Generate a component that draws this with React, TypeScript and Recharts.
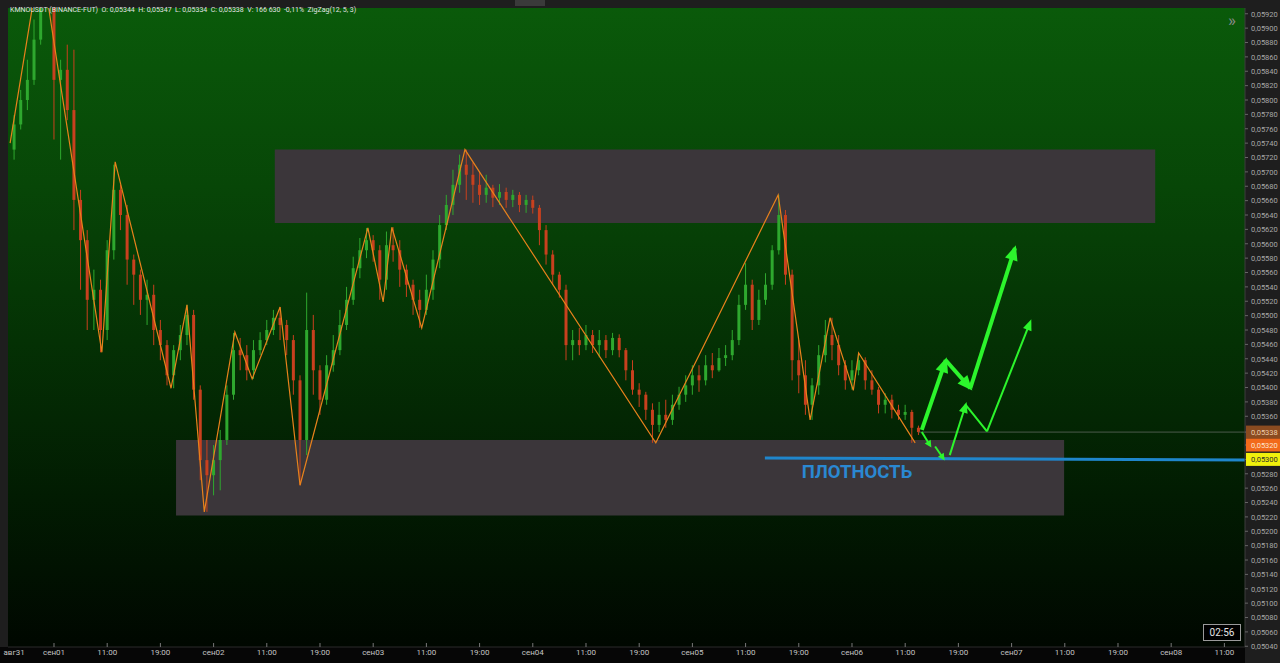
import React from 'react';
import { ComposedChart, Bar, Line, XAxis, YAxis, ReferenceArea, ReferenceDot } from 'recharts';

// hourly candles, first one at сен01 00:00 - 6h
const firstHour = -6;
const firstOpen = 0.05731;
const closes = [
  0.05766, 0.058, 0.05828, 0.05884, 0.0594, 0.05953, 0.05828, 0.05842, 0.05786, 0.05661,
  0.05605, 0.05522, 0.05536, 0.0548, 0.05591, 0.05675, 0.0564, 0.05578, 0.05557, 0.05522,
  0.05529, 0.0548, 0.05459, 0.05417, 0.05452, 0.05473, 0.05501, 0.05397, 0.05299, 0.05278,
  0.05299, 0.05327, 0.0539, 0.05452, 0.05445, 0.05424, 0.05452, 0.05466, 0.0548, 0.05497,
  0.05487, 0.05466, 0.0541, 0.05327, 0.0548, 0.05424, 0.05383, 0.05431, 0.05452, 0.05487,
  0.05522, 0.05566, 0.05591, 0.05605, 0.05591, 0.0555, 0.05598, 0.05591, 0.05564, 0.05543,
  0.05522, 0.05508, 0.05536, 0.05578, 0.05626, 0.05654, 0.05682, 0.0571, 0.05696, 0.05682,
  0.05668, 0.05678, 0.05664, 0.05672, 0.05661, 0.05668, 0.05654, 0.05661, 0.0565, 0.05619,
  0.05585, 0.05557, 0.05536, 0.05459, 0.05466, 0.05459, 0.05473, 0.05459, 0.05466, 0.05452,
  0.05469, 0.05452, 0.05424, 0.05397, 0.0539, 0.05369, 0.05348, 0.05362, 0.05355, 0.05376,
  0.0539, 0.05403, 0.05417, 0.0541, 0.05431, 0.05424, 0.05441, 0.05445, 0.05466, 0.05515,
  0.05543, 0.05494, 0.05522, 0.05543, 0.05591, 0.0564, 0.05557, 0.05438, 0.05417, 0.05376,
  0.05403, 0.05445, 0.05473, 0.05459, 0.05431, 0.0541, 0.05424, 0.05438, 0.0541, 0.05397,
  0.05376, 0.05383, 0.05369, 0.05362, 0.05366, 0.05344, 0.05338,
];
const highs = [
  0.05779, 0.05814, 0.05856, 0.05912, 0.05981, 0.05995, 0.0597, 0.05856, 0.05877, 0.0587,
  0.05675, 0.05619, 0.05564, 0.0555, 0.05605, 0.0571, 0.05682, 0.05654, 0.05585, 0.05564,
  0.0555, 0.05543, 0.05494, 0.05466, 0.05459, 0.05487, 0.05515, 0.05508, 0.05403, 0.05327,
  0.0532, 0.05341, 0.05403, 0.05476, 0.05469, 0.05459, 0.05466, 0.05477, 0.05494, 0.05508,
  0.05512, 0.05494, 0.05473, 0.05417, 0.05532, 0.05501, 0.05431, 0.05445, 0.05473, 0.05508,
  0.0554, 0.05582, 0.05608, 0.05622, 0.05612, 0.05598, 0.05617, 0.05623, 0.05605, 0.05571,
  0.0555, 0.05536, 0.05557, 0.05591, 0.0564, 0.05668, 0.05703, 0.05724, 0.05731, 0.05713,
  0.057, 0.05696, 0.05682, 0.05683, 0.05678, 0.05675, 0.05672, 0.05668, 0.05667, 0.05654,
  0.05626, 0.05591, 0.05561, 0.05543, 0.0548, 0.05483, 0.05487, 0.0548, 0.0548, 0.05473,
  0.05476, 0.05474, 0.05455, 0.05438, 0.05406, 0.05394, 0.05378, 0.0538, 0.05383, 0.0539,
  0.05401, 0.05417, 0.05431, 0.05431, 0.05445, 0.05448, 0.05455, 0.05459, 0.0548, 0.05529,
  0.05573, 0.0555, 0.05536, 0.05559, 0.05598, 0.05668, 0.05647, 0.05564, 0.05466, 0.05438,
  0.05413, 0.05459, 0.05494, 0.05497, 0.05473, 0.05438, 0.05438, 0.05448, 0.05442, 0.05424,
  0.05401, 0.05392, 0.0539, 0.05376, 0.05376, 0.05369, 0.05347,
];
const lows = [
  0.05717, 0.05759, 0.05786, 0.05821, 0.05877, 0.05926, 0.05745, 0.05717, 0.05772, 0.05619,
  0.05536, 0.0548, 0.0548, 0.05449, 0.05466, 0.05578, 0.05619, 0.05543, 0.05515, 0.05501,
  0.05487, 0.05459, 0.05438, 0.05403, 0.05399, 0.05438, 0.05459, 0.05383, 0.05271, 0.05227,
  0.0525, 0.05257, 0.0532, 0.05383, 0.05424, 0.0541, 0.05412, 0.05445, 0.05459, 0.05473,
  0.05466, 0.05445, 0.0539, 0.05264, 0.05306, 0.0539, 0.05362, 0.05376, 0.05422, 0.05445,
  0.0548, 0.05515, 0.05552, 0.0558, 0.05575, 0.05522, 0.05536, 0.05575, 0.0554, 0.05526,
  0.05501, 0.05483, 0.05501, 0.05522, 0.05566, 0.05619, 0.0564, 0.05671, 0.05661, 0.05657,
  0.05654, 0.05657, 0.05651, 0.05654, 0.0565, 0.05651, 0.05644, 0.05643, 0.05642, 0.05598,
  0.05571, 0.05543, 0.05525, 0.05438, 0.05438, 0.05445, 0.05452, 0.05448, 0.05442, 0.05441,
  0.05445, 0.05442, 0.0541, 0.0539, 0.05373, 0.05355, 0.05323, 0.05338, 0.05344, 0.05348,
  0.05369, 0.0538, 0.0539, 0.05394, 0.05403, 0.05413, 0.05422, 0.0543, 0.05438, 0.05459,
  0.05508, 0.0548, 0.05487, 0.05515, 0.05536, 0.05585, 0.05543, 0.0541, 0.05392, 0.05362,
  0.05355, 0.0539, 0.05435, 0.05438, 0.05417, 0.05397, 0.05397, 0.05417, 0.05397, 0.0539,
  0.05364, 0.05364, 0.05357, 0.05355, 0.05355, 0.05323, 0.05334,
];

// ZigZag(12, 5, 3) pivots
const zigzagTimes = [-6.6, -2, 7.2, 9.2, 17.6, 20, 22.6, 27.2, 29.8, 34, 37, 47.2, 49.5, 50.8, 55.3, 61.8, 90.5, 108.9, 113.7, 116.7, 120.2, 121, 129.5];
const zigzagPrices = [0.0574, 0.06, 0.05449, 0.05714, 0.05399, 0.05515, 0.05227, 0.05477, 0.05412, 0.05512, 0.05264, 0.05622, 0.05519, 0.05623, 0.05483, 0.05731, 0.05323, 0.05668, 0.05355, 0.05497, 0.05396, 0.05448, 0.05323];

// drawn zones
const upperZone = { t1: 33.2, t2: 165.6, p1: 0.05629, p2: 0.05731 };
const lowerZone = { t1: 18.35, t2: 151.9, p1: 0.05222, p2: 0.05327 };

// density level
const densityTimes = [106.9, 179.1];
const densityPrices = [0.05302, 0.05299];
const densityLabel = 'ПЛОТНОСТЬ';
const densityLabelAt = { t: 120.75, p: 0.05282 };

const lastPrice = 0.05338;
const lastPriceTimes = [130, 179.1];

// hand-drawn forecast arrows
const thickArrowTimes = [130.5, 134.1, 137.8, 144.5];
const thickArrowPrices = [0.05341, 0.05438, 0.05399, 0.05594];
const thickArrowHeads = [true, true, true];
const thinArrowTimes = [134.7, 137.1, 140.3, 146.8];
const thinArrowPrices = [0.05306, 0.05376, 0.05339, 0.05491];
const thinArrowHeads = [true, false, true];
const dropArrowTimes = [[130.5, 131.7], [132.5, 133.7]];
const dropArrowPrices = [[0.05338, 0.0532], [0.05318, 0.05302]];

const xTicks = [-6, 0, 8, 16, 24, 32, 40, 48, 56, 64, 72, 80, 88, 96, 104, 112, 120, 128, 136, 144, 152, 160, 168, 176];
const xTickLabels = ['авг31', 'сен01', '11:00', '19:00', 'сен02', '11:00', '19:00', 'сен03', '11:00', '19:00', 'сен04', '11:00', '19:00', 'сен05', '11:00', '19:00', 'сен06', '11:00', '19:00', 'сен07', '11:00', '19:00', 'сен08', '11:00'];
const yTicks = [
  0.0504, 0.0506, 0.0508, 0.051, 0.0512, 0.0514, 0.0516, 0.0518, 0.052, 0.0522, 0.0524, 0.0526, 0.0528,
  0.0536, 0.0538, 0.054, 0.0542, 0.0544, 0.0546, 0.0548, 0.055, 0.0552, 0.0554, 0.0556, 0.0558, 0.056,
  0.0562, 0.0564, 0.0566, 0.0568, 0.057, 0.0572, 0.0574, 0.0576, 0.0578, 0.058, 0.0582, 0.0584, 0.0586,
  0.0588, 0.059, 0.0592,
];
const badgeValues = [0.05338, 0.0532, 0.053];

const header = 'KMNOUSDT (BINANCE-FUT)  O: 0,05344  H: 0,05347  L: 0,05334  C: 0,05338  V: 166 630  -0,11%  ZigZag(12, 5, 3)';

const UP = '#2ea82e';
const DOWN = '#c8401e';
const ARROW = '#2cf52c';
const BODY_W = 3;
const badgeStyles = [
  { bg: '#8a4b20', fg: '#f0cfae' },
  { bg: '#f26a1b', fg: '#fde6d2' },
  { bg: '#f0f00c', fg: '#2a2a2a' },
];

const candles = closes.map((c, i) => {
  const open = i === 0 ? firstOpen : closes[i - 1];
  return { t: firstHour + i, open, close: c, high: highs[i], low: lows[i], range: [lows[i], highs[i]] };
});
const zigzag = zigzagTimes.map((t, i) => ({ t, p: zigzagPrices[i] }));
const density = densityTimes.map((t, i) => ({ t, p: densityPrices[i] }));
const lastLine = lastPriceTimes.map((t) => ({ t, p: lastPrice }));

const toSegments = (times: number[], prices: number[], heads: boolean[]) =>
  heads.map((h, i) => ({
    head: h,
    data: [
      { t: times[i], p: prices[i] },
      { t: times[i + 1], p: prices[i + 1] },
    ],
  }));
const thickSegs = toSegments(thickArrowTimes, thickArrowPrices, thickArrowHeads);
const thinSegs = toSegments(thinArrowTimes, thinArrowPrices, thinArrowHeads);
const dropSegs = dropArrowTimes.map((ts, i) => ({
  head: true,
  data: [
    { t: ts[0], p: dropArrowPrices[i][0] },
    { t: ts[1], p: dropArrowPrices[i][1] },
  ],
}));

const fmt = (v: number) => v.toFixed(5).replace('.', ',');

function Candle(props: any) {
  const { x, y, width, height, payload } = props;
  if (x == null || !payload) return null;
  const { open, close, high, low } = payload;
  const k = height / (high - low || 1e-9);
  const top = y + (high - Math.max(open, close)) * k;
  const bh = Math.max(1, Math.abs(open - close) * k);
  const col = close >= open ? UP : DOWN;
  const cx = x + width / 2;
  return (
    <g>
      <line x1={cx} x2={cx} y1={y} y2={y + height} stroke={col} strokeWidth={1} />
      <rect x={cx - BODY_W / 2} y={top} width={BODY_W} height={bh} fill={col} />
    </g>
  );
}

const dotStore: Record<string, { x: number; y: number }> = {};
function arrowDot(id: string, head: boolean, len: number, wid: number) {
  return (props: any) => {
    const { cx, cy, index, points } = props;
    if (index === 0) {
      dotStore[id] = { x: cx, y: cy };
      return <g key={`${id}-0`} />;
    }
    const prev = points && points[0] ? { x: points[0].x, y: points[0].y } : dotStore[id];
    if (!head || !prev || cx == null) return <g key={`${id}-1`} />;
    const a = Math.atan2(cy - prev.y, cx - prev.x);
    const tx = cx + 3 * Math.cos(a);
    const ty = cy + 3 * Math.sin(a);
    const bx = tx - len * Math.cos(a);
    const by = ty - len * Math.sin(a);
    const nx = (-Math.sin(a) * wid) / 2;
    const ny = (Math.cos(a) * wid) / 2;
    return (
      <polygon
        key={`${id}-1`}
        points={`${tx},${ty} ${bx + nx},${by + ny} ${bx - nx},${by - ny}`}
        fill={ARROW}
      />
    );
  };
}

function PriceTick(props: any) {
  const { x, y, payload } = props;
  const v = payload.value;
  const bi = badgeValues.indexOf(v);
  if (bi >= 0) {
    const s = badgeStyles[bi];
    return (
      <g>
        <rect x={x - 5} y={y - 6.5} width={35} height={13} fill={s.bg} />
        <text x={x} y={y} dy={2.8} fontSize={7.5} fill={s.fg} fontFamily="Roboto">
          {fmt(v)}
        </text>
      </g>
    );
  }
  return (
    <text x={x} y={y} dy={2.8} fontSize={7.5} fill="#a8a8a8" fontFamily="Roboto">
      {fmt(v)}
    </text>
  );
}

function TimeTick(props: any) {
  const { x, y, payload } = props;
  const i = xTicks.indexOf(payload.value);
  return (
    <g>
      {i > 0 && <line x1={x} x2={x} y1={y - 4} y2={y} stroke="#777" />}
      <text x={x} y={y + 2} dy="0.71em" textAnchor="middle" fontSize={8} fill="#c4c4c4" fontFamily="Roboto">
        {xTickLabels[i]}
      </text>
    </g>
  );
}

export default function App() {
  return (
    <div
      style={{
        position: 'fixed',
        left: 0,
        top: 0,
        width: 1280,
        height: 663,
        background: '#1e1e1e',
        overflow: 'hidden',
        fontFamily: 'Roboto, sans-serif',
      }}
    >
      <div
        style={{
          position: 'absolute',
          left: 8,
          top: 8,
          width: 1237,
          height: 639,
          background:
            'linear-gradient(to bottom, #0a5a0a 0%, #074607 28%, #043104 52%, #021c02 76%, #000700 100%)',
        }}
      />
      <div style={{ position: 'absolute', left: 0, top: 647, width: 1245, height: 16, background: '#060606' }} />
      <div style={{ position: 'absolute', left: 515, top: 0, width: 30, height: 6, background: '#3a3a3a' }} />
      <div style={{ position: 'absolute', left: 0 }}>
        <ComposedChart
          width={1280}
          height={663}
          data={candles}
          margin={{ top: 8, right: 0, bottom: 0, left: 8 }}
        >
          <XAxis
            dataKey="t"
            type="number"
            domain={[-6.917, 179.1]}
            allowDataOverflow
            ticks={xTicks}
            interval={0}
            height={16}
            tickSize={0}
            tickMargin={0}
            tickLine={false}
            axisLine={{ stroke: '#2a2a2a' }}
            tick={<TimeTick />}
          />
          <YAxis
            orientation="right"
            type="number"
            domain={[0.05039, 0.05928]}
            allowDataOverflow
            ticks={[...yTicks, ...badgeValues]}
            interval={0}
            width={35}
            tickSize={3}
            tickMargin={3}
            tickLine={{ stroke: '#666' }}
            axisLine={{ stroke: '#3c3c3c' }}
            tick={<PriceTick />}
          />
          <ReferenceArea
            x1={upperZone.t1}
            x2={upperZone.t2}
            y1={upperZone.p1}
            y2={upperZone.p2}
            fill="#3b363a"
            fillOpacity={1}
            stroke="none"
          />
          <ReferenceArea
            x1={lowerZone.t1}
            x2={lowerZone.t2}
            y1={lowerZone.p1}
            y2={lowerZone.p2}
            fill="#3b363a"
            fillOpacity={1}
            stroke="none"
          />
          <Line
            data={lastLine}
            dataKey="p"
            stroke="#4d5a4d"
            strokeWidth={1}
            dot={false}
            isAnimationActive={false}
          />
          <Bar dataKey="range" barSize={4} shape={<Candle />} isAnimationActive={false} />
          <Line
            data={zigzag}
            dataKey="p"
            type="linear"
            stroke="#e8821c"
            strokeWidth={1.2}
            dot={false}
            isAnimationActive={false}
          />
          <Line
            data={density}
            dataKey="p"
            type="linear"
            stroke="#1f86cc"
            strokeWidth={3}
            dot={false}
            isAnimationActive={false}
          />
          {thickSegs.map((s, i) => (
            <Line
              key={`thick-${i}`}
              data={s.data}
              dataKey="p"
              type="linear"
              stroke={ARROW}
              strokeWidth={4}
              dot={arrowDot(`thick-${i}`, s.head, 15, 13)}
              isAnimationActive={false}
            />
          ))}
          {thinSegs.map((s, i) => (
            <Line
              key={`thin-${i}`}
              data={s.data}
              dataKey="p"
              type="linear"
              stroke={ARROW}
              strokeWidth={2}
              dot={arrowDot(`thin-${i}`, s.head, 11, 9)}
              isAnimationActive={false}
            />
          ))}
          {dropSegs.map((s, i) => (
            <Line
              key={`drop-${i}`}
              data={s.data}
              dataKey="p"
              type="linear"
              stroke={ARROW}
              strokeWidth={2}
              dot={arrowDot(`drop-${i}`, s.head, 7, 7)}
              isAnimationActive={false}
            />
          ))}
          <ReferenceDot
            x={densityLabelAt.t}
            y={densityLabelAt.p}
            r={1}
            fill="none"
            stroke="none"
            label={(p: any) => (
              <text
                x={p.viewBox.x + (p.viewBox.width || 0) / 2}
                y={p.viewBox.y + (p.viewBox.height || 0) / 2}
                dy={6}
                textAnchor="middle"
                fontSize={18.5}
                fontWeight={700}
                fill="#2a88d2"
                fontFamily="Roboto"
              >
                {densityLabel}
              </text>
            )}
          />
        </ComposedChart>
      </div>
      <div
        style={{
          position: 'absolute',
          left: 10,
          top: 6,
          fontSize: 7,
          color: '#e2e2e2',
          whiteSpace: 'pre',
          lineHeight: '9px',
        }}
      >
        {header}
      </div>
      <div style={{ position: 'absolute', left: 1228, top: 10, fontSize: 17, color: '#8a8a8a', lineHeight: '20px' }}>»</div>
      <div
        style={{
          position: 'absolute',
          left: 1203,
          top: 624,
          width: 36,
          height: 15,
          border: '1px solid #9a9a9a',
          background: '#000',
          color: '#e4e4e4',
          fontSize: 10,
          lineHeight: '15px',
          textAlign: 'center',
        }}
      >
        02:56
      </div>
    </div>
  );
}
